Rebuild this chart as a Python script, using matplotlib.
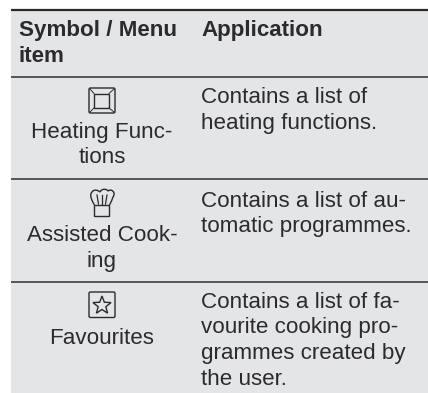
import matplotlib
matplotlib.use('Agg')
import matplotlib.pyplot as plt
from matplotlib.patches import FancyBboxPatch, Rectangle, Polygon
from matplotlib.path import Path
from matplotlib.patches import PathPatch
import numpy as np

# Table content
headers = [['Symbol / Menu', 'item'], ['Application']]
menu_items = [['Heating Func-', 'tions'], ['Assisted Cook-', 'ing'], ['Favourites']]
applications = [
    ['Contains a list of', 'heating functions.'],
    ['Contains a list of au-', 'tomatic programmes.'],
    ['Contains a list of fa-', 'vourite cooking pro-', 'grammes created by', 'the user.'],
]

# Baselines of the text lines, in pixels from the top
header_y = [36, 62]
menu_y = [[138, 163], [241, 267], [344]]
app_y = [[103, 129], [207, 232], [308, 333, 359, 385]]
rule_y = [77, 179, 282]

TXT = '#2b2b2d'
BG = '#e4e5e7'
FS = 16.1

plt.rcParams['font.family'] = ['Liberation Sans']

fig = plt.figure(figsize=(4.28, 3.93), dpi=100)
ax = fig.add_axes([0, 0, 1, 1])
ax.set_xlim(0, 428)
ax.set_ylim(393, 0)
ax.axis('off')

ax.add_patch(Rectangle((11, 9), 417, 384, fc=BG, ec='none', zorder=0))
ax.plot([192, 192], [10, 393], color='#e6e7e9', lw=0.6, zorder=1)
ax.plot([11, 428], [9.5, 9.5], color='#2a2a2c', lw=1.6, solid_capstyle='butt')
for y in rule_y:
    ax.plot([11, 428], [y, y], color='#2f2f31', lw=1.1, solid_capstyle='butt')

# Header
for line, y in zip(headers[0], header_y):
    ax.text(19, y, line, fontsize=FS, fontweight='bold', color=TXT, va='baseline', ha='left')
ax.text(201, header_y[0], headers[1][0], fontsize=FS, fontweight='bold', color=TXT, va='baseline', ha='left')

# Body
for lines, ys in zip(menu_items, menu_y):
    for line, y in zip(lines, ys):
        ax.text(102, y, line, fontsize=FS, color=TXT, va='baseline', ha='center')
for lines, ys in zip(applications, app_y):
    for line, y in zip(lines, ys):
        ax.text(201, y, line, fontsize=FS, color=TXT, va='baseline', ha='left')


def rounded_box(x0, y0, x1, y1, lw=1.0):
    ax.add_patch(FancyBboxPatch((x0 + 1, y0 + 1), x1 - x0 - 2, y1 - y0 - 2,
                                boxstyle='round,pad=1,rounding_size=1.5',
                                fc='none', ec=TXT, lw=lw))


# Heating functions icon
rounded_box(89, 88, 115, 113)
ax.add_patch(Rectangle((94, 93.5), 15, 14.5, fc='none', ec=TXT, lw=1.0))
for a, b in [((90, 89), (94, 93.5)), ((114, 89), (109, 93.5)),
             ((90, 112), (94, 108)), ((114, 112), (109, 108))]:
    ax.plot([a[0], b[0]], [a[1], b[1]], color=TXT, lw=0.7)

# Chef hat icon
ax.add_patch(Rectangle((94.5, 205), 15, 10.5, fc='none', ec=TXT, lw=1.0))
hat = Path([(94.5, 205), (92, 201), (89, 195), (92, 192),
            (94, 189), (98, 190), (100, 192),
            (102, 188), (107, 189), (108, 191),
            (112, 188), (116, 193), (113, 197),
            (112, 200), (111, 202), (109.5, 205)],
           [Path.MOVETO] + [Path.CURVE4] * 15)
ax.add_patch(PathPatch(hat, fc='none', ec=TXT, lw=1.0))
for x0, x1 in [(98.5, 97), (102, 102), (105.5, 107)]:
    ax.plot([x0, x1], [204, 195], color=TXT, lw=0.9)

# Favourites icon
rounded_box(89, 292, 115, 317.5)
angles = np.deg2rad(90 + 36 * np.arange(10))
radii = np.where(np.arange(10) % 2 == 0, 9.5, 4.0)
star = np.column_stack([102 + radii * np.cos(angles), 305.5 - radii * np.sin(angles)])
ax.add_patch(Polygon(star, closed=True, fc='none', ec=TXT, lw=1.0, joinstyle='miter'))

fig.savefig('out.png', dpi=100)
